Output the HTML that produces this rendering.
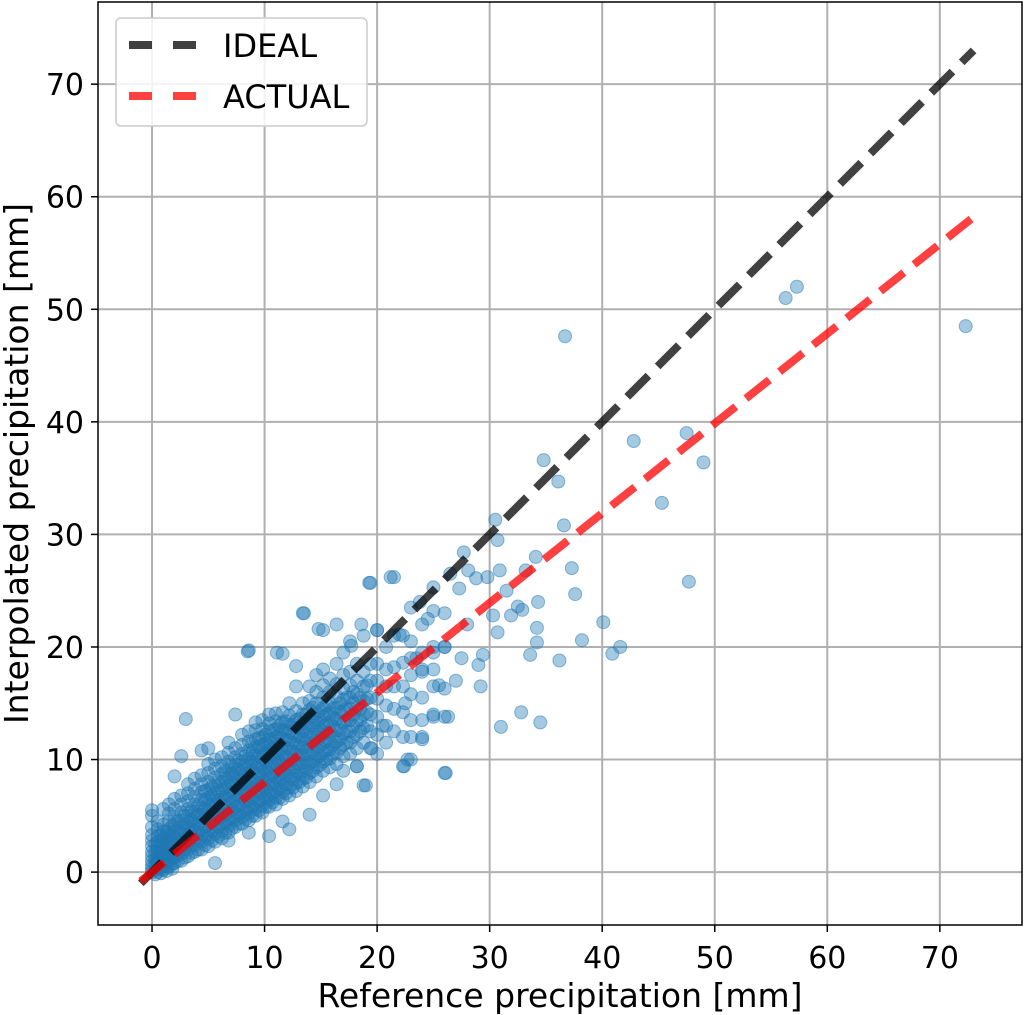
<!DOCTYPE html>
<html><head><meta charset="utf-8"><style>
body{margin:0;background:#fff;}
svg{display:block;font-family:"DejaVu Sans","Liberation Sans",sans-serif;}
</style></head><body>
<svg id="chart" width="1024" height="1015"></svg>
<script>
// data
const outliers=[[72.3,48.5],[57.3,52],[56.3,51],[36.7,47.6],[42.8,38.3],[47.5,39],[49,36.4],[45.3,32.8],[47.7,25.8],[34.8,36.6],[36.1,34.7],[36.6,30.8],[37.3,27],[37.6,24.7],[40.1,22.2],[41.6,20],[40.9,19.4],[38.2,20.6],[36.2,18.8],[34.5,13.3],[32.8,14.2],[31,12.9],[30.5,31.3],[30.7,29.5],[30.9,26.8],[29.8,26.2],[34.1,28],[33.2,26.8],[34.3,24],[34.2,21.7],[33.6,19.3],[34.2,20.4],[32.9,23.3],[32.5,23.6],[31.9,22.8],[30.3,22.8],[30.7,21.3],[29.4,19.3],[29,18.4],[29.2,16.5],[27.7,28.4],[28.1,26.8],[28.8,26.1],[27.3,25.2],[26.5,26.5],[26.3,13.8],[26.1,8.8],[25.5,16.6],[22,21.1],[21.2,26.2],[19.3,25.7],[20,21.5],[18.6,22],[17.7,20.1],[14.8,21.6],[13.5,23],[8.5,19.6],[11.1,19.5],[3,13.6],[22.5,15],[23.5,19],[24,18],[25,20],[25,14],[27,17],[26,20],[23,12],[22.4,9.4],[22.7,10],[24,12],[20.5,13],[19,7.7],[18.2,9.4],[19.5,11],[28,22],[27.5,19],[31.5,25],[24.5,22.5],[23.8,24]];
const clusterX=[0,0.5,1,1.5,2,2.6,3.2,3.8,4.4,5,5.6,6.2,6.8,7.4,8,8.6,9.2,9.8,10.4,11,11.6,12.2,12.8,13.4,14,14.6,15.2,15.8,16.4,17,17.6,18.2,18.8,19.4,20,20.8,21.5,22.3,23,24,25,26];
const clusterY=[
[0,0.3,0.6,1,1.4,1.8,2.3,2.8,3.3,4,5,5.5],
[0,0.4,0.8,1.2,1.7,2.2,2.7,3.2,3.8,4.5],
[0.2,0.6,1,1.5,2,2.5,3,3.6,4.2,5.6],
[0.5,1,1.5,2,2.6,3.2,3.8,4.5,5.2,6],
[0.8,1.3,1.8,2.4,3,3.6,4.2,4.9,5.6,6.5,8.5],
[1,1.6,2.2,2.8,3.4,4,4.6,5.3,6,6.8,10.3],
[1.4,2,2.6,3.2,3.8,4.4,5,5.6,6.3,7,7.8],
[1.8,2.4,3,3.6,4.2,4.8,5.4,6,6.7,7.4,8.3],
[2,2.7,3.3,3.9,4.5,5.1,5.7,6.4,7.1,7.8,8.6,10.8],
[2.3,3,3.6,4.2,4.8,5.4,6,6.6,7.3,8,8.8,9.6,11],
[0.8,2.7,3.4,4,4.6,5.2,5.8,6.4,7,7.7,8.4,9.2,10],
[3,3.7,4.3,4.9,5.5,6.1,6.7,7.3,8,8.7,9.4,10.2],
[2.8,3.5,4.1,4.7,5.3,5.9,6.5,7.1,7.7,8.4,9.1,9.8,10.6,11.5],
[4,4.6,5.2,5.8,6.4,7,7.6,8.2,8.8,9.5,10.2,11,14],
[4.3,4.9,5.5,6.1,6.7,7.3,7.9,8.5,9.1,9.8,10.5,11.3,12.2],
[3.5,4.6,5.2,5.8,6.4,7,7.6,8.2,8.8,9.4,10.1,10.8,11.6,12.5,19.7],
[5,5.6,6.2,6.8,7.4,8,8.6,9.2,9.8,10.4,11.1,11.8,12.6,13.3],
[5.3,5.9,6.5,7.1,7.7,8.3,8.9,9.5,10.1,10.7,11.3,12,12.7,13.5],
[3.2,5.8,6.4,7,7.6,8.2,8.8,9.4,10,10.6,11.2,11.8,12.5,13.2,14],
[6,6.6,7.2,7.8,8.4,9,9.6,10.2,10.8,11.4,12,12.7,13.4,14.1],
[4.5,6.5,7.1,7.7,8.3,8.9,9.5,10.1,10.7,11.3,11.9,12.6,13.3,14.2,19.4],
[3.8,6.8,7.5,8.2,8.9,9.6,10.3,11,11.7,12.4,13.1,13.9,15],
[7.2,7.9,8.6,9.3,10,10.7,11.4,12.1,12.8,13.5,14.3,16.5,18.3],
[7.6,8.3,9,9.7,10.4,11.1,11.8,12.5,13.2,14,15,23],
[5.1,8,8.8,9.6,10.4,11.2,12,12.8,13.6,14.4,15.2,16.5],
[8.5,9.3,10.1,10.9,11.7,12.5,13.3,14.1,15,16,17.5],
[6.8,9,9.8,10.6,11.4,12.2,13,13.8,14.6,15.5,16.6,18,21.5],
[9.3,10.1,10.9,11.7,12.5,13.3,14.1,15,16,17.2],
[7.8,9.6,10.6,11.6,12.6,13.6,14.6,15.6,16.7,18.5,22],
[9,10.3,11.3,12.3,13.3,14.3,15.3,16.3,17.5,19.5],
[10.5,11.5,12.5,13.5,14.5,15.5,16.6,17.8,20.5],
[9.4,11,12.2,13.4,14.6,15.8,17,18.5],
[7.7,11.5,12.8,14,15.2,16.5,17.8,21],
[11,12.5,14,15.5,17,18.5,25.7],
[10.5,12.2,13.8,15.4,17,18.5,21.5],
[11.5,13,14.8,16.5,18,20],
[12.5,14.5,16.5,18.2,21,26.2],
[9.4,12,14.2,16.5,18.6,21],
[10,13.5,15.8,17.5,19,20.5,23.5],
[11.8,13.5,15.5,17.8,19.5,22],
[13.8,16.5,18,19.5,23.2,25.3],
[8.8,13.8,16.3,20,23]];
const coreX=[0.3,0.8,1.3,1.8,2.3,2.9,3.5,4.1,4.7,5.3,5.9,6.5,7.1,7.7,8.3,8.9,9.5,10.1,10.7,11.3,11.9,12.5,13.1,13.7,14.3,14.9,15.5,16.1,16.7,17.3,17.9,18.5,19.1];
const coreY=[
[-0.2,0.2,0.7,1.2,1.8,2.5],
[-0.1,0.3,0.8,1.3,1.9,2.6,3.3],
[0.1,0.5,1,1.6,2.2,2.9,3.6],
[0.3,0.7,1.3,1.9,2.6,3.3,4.1],
[1,1.6,2.3,3,3.7,4.5],
[1.3,2,2.7,3.4,4.2,5],
[1.7,2.4,3.1,3.8,4.6,5.4],
[2,2.8,3.5,4.3,5.1,5.9],
[2.4,3.2,4,4.8,5.6,6.4,7.2],
[2.8,3.6,4.4,5.2,6,6.8,7.6],
[3.2,4,4.8,5.6,6.4,7.2,8],
[3.5,4.3,5.1,5.9,6.7,7.5,8.3,9],
[3.9,4.7,5.5,6.3,7.1,7.9,8.7,9.4],
[4.3,5.1,5.9,6.7,7.5,8.3,9.1,9.9],
[4.7,5.5,6.3,7.1,7.9,8.7,9.5,10.3],
[5,5.8,6.6,7.4,8.2,9,9.8,10.6,11.4],
[5.5,6.3,7.1,7.9,8.7,9.5,10.3,11.1,11.9],
[5.8,6.6,7.4,8.2,9,9.8,10.6,11.4,12.2],
[6.2,7,7.8,8.6,9.4,10.2,11,11.8,12.6],
[6.6,7.4,8.2,9,9.8,10.6,11.4,12.2,13],
[7,7.8,8.6,9.4,10.2,11,11.8,12.6,13.4],
[7.5,8.3,9.1,9.9,10.7,11.5,12.3,13.1],
[8,8.8,9.6,10.4,11.2,12,12.8,13.6],
[8.4,9.2,10,10.8,11.6,12.4,13.2,14],
[9,9.8,10.6,11.4,12.2,13,13.8,14.6],
[9.5,10.3,11.1,11.9,12.7,13.5,14.3],
[10,10.8,11.6,12.4,13.2,14,14.8],
[10.5,11.3,12.1,12.9,13.7,14.5],
[11,11.8,12.6,13.4,14.2,15],
[11.5,12.5,13.5,14.5,15.5],
[12,13,14,15,16],
[12.5,13.5,14.5,15.5],
[13,14.2,15.4,16.6]];
const xTicks=[0,10,20,30,40,50,60,70];
const yTicks=[0,10,20,30,40,50,60,70];
const idealLine=[[-1,-1],[73,73]];
const actualLine=[[-1,-0.8],[73.5,58.6]];

const NS="http://www.w3.org/2000/svg";
const svg=document.getElementById('chart');
const L=98,R=1022,T=2,B=925;
const X0=-4.8,X1=77.3,Y0=-4.7,Y1=77.3;
const sx=v=>L+(v-X0)/(X1-X0)*(R-L);
const sy=v=>B-(v-Y0)/(Y1-Y0)*(B-T);
function mk(tag,attrs,parent){const e=document.createElementNS(NS,tag);for(const k in attrs)e.setAttribute(k,attrs[k]);(parent||svg).appendChild(e);return e;}

const grid=mk('g',{});


xTicks.forEach(t=>{
  const l=mk('line',{x1:sx(t),x2:sx(t),y1:T,y2:B,stroke:'#b0b0b0','stroke-width':2},grid);
  
  
  const tk=mk('line',{x1:sx(t),x2:sx(t),y1:B,y2:B+7,stroke:'#000','stroke-width':1.5});
  
  
  const tx=mk('text',{x:sx(t),y:B+43,'text-anchor':'middle','font-size':30});
  tx.textContent=t;
  
  
});
yTicks.forEach(t=>{
  const l=mk('line',{x1:L,x2:R,y1:sy(t),y2:sy(t),stroke:'#b0b0b0','stroke-width':2},grid);
  
  
  const tk=mk('line',{x1:L-7,x2:L,y1:sy(t),y2:sy(t),stroke:'#000','stroke-width':1.5});
  
  
  const tx=mk('text',{x:L-14,y:sy(t)+11,'text-anchor':'end','font-size':30});
  tx.textContent=t;
  
  
});

const pts=mk('g',{fill:'#1f77b4','fill-opacity':0.4,stroke:'#1f77b4','stroke-opacity':0.5,'stroke-width':1});


const all=[];
clusterX.forEach((x,i)=>clusterY[i].forEach(y=>all.push([x,y])));
coreX.forEach((x,i)=>coreY[i].forEach(y=>all.push([x,y])));
outliers.forEach(p=>all.push(p));
all.forEach(p=>{
  const c=mk('circle',{cx:sx(p[0]),cy:sy(p[1]),r:6.5},pts);
  
  
});

const li=mk('line',{x1:sx(idealLine[0][0]),y1:sy(idealLine[0][1]),x2:sx(idealLine[1][0]),y2:sy(idealLine[1][1]),stroke:'#000','stroke-opacity':0.75,'stroke-width':8,'stroke-dasharray':'30 13'});


const la=mk('line',{x1:sx(actualLine[0][0]),y1:sy(actualLine[0][1]),x2:sx(actualLine[1][0]),y2:sy(actualLine[1][1]),stroke:'#ff0000','stroke-opacity':0.75,'stroke-width':8,'stroke-dasharray':'30 13'});



const fr=mk('rect',{x:L,y:T,width:R-L,height:B-T,fill:'none',stroke:'#000','stroke-width':1.5});



const lg=mk('g',{});


mk('rect',{x:116,y:18,width:251,height:108,rx:5,fill:'#fff','fill-opacity':0.85,stroke:'#ccc','stroke-width':1.5},lg);
const e1=mk('line',{x1:129,x2:196,y1:45,y2:45,stroke:'#000','stroke-opacity':0.75,'stroke-width':8,'stroke-dasharray':'23 21'},lg);


const t1=mk('text',{x:223,y:57,'font-size':32},lg);t1.textContent='IDEAL';


const e2=mk('line',{x1:129,x2:196,y1:96,y2:96,stroke:'#ff0000','stroke-opacity':0.75,'stroke-width':8,'stroke-dasharray':'23 21'},lg);


const t2=mk('text',{x:223,y:108,'font-size':32},lg);t2.textContent='ACTUAL';



const xt=mk('text',{x:(L+R)/2,y:1007,'text-anchor':'middle','font-size':33});
xt.textContent='Reference precipitation [mm]';


const yt=mk('text',{x:0,y:0,'text-anchor':'middle','font-size':33,transform:'translate(28,'+((T+B)/2)+') rotate(-90)'});
yt.textContent='Interpolated precipitation [mm]';


</script>
</body></html>
